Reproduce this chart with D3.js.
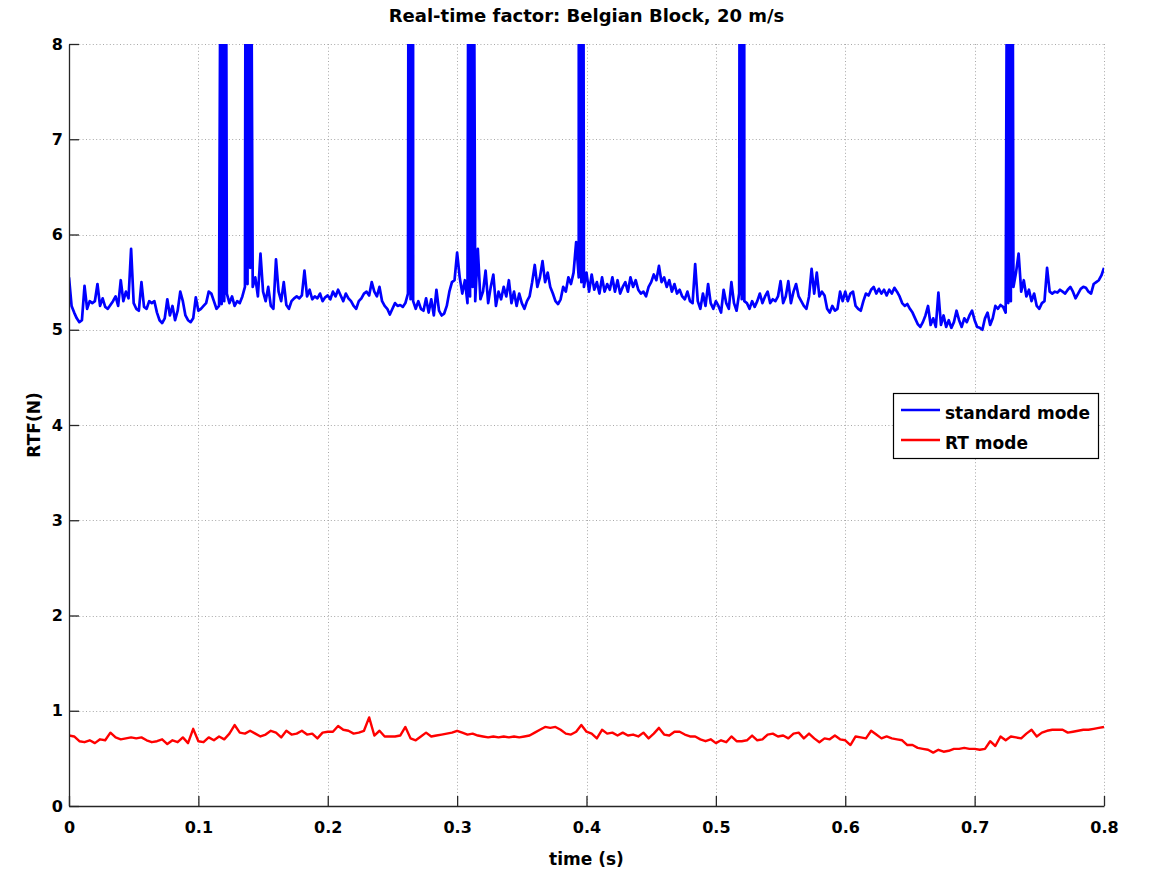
<!DOCTYPE html>
<html>
<head>
<meta charset="utf-8">
<script src="https://cdn.jsdelivr.net/npm/d3@7"></script>
<style>
  body { margin: 0; background: #fff; }
  svg text { font-family: "DejaVu Sans", sans-serif; font-weight: bold; fill: #000; }
</style>
</head>
<body>
<svg id="chart" width="1151" height="870"></svg>
<script>
// ---- data ----------------------------------------------------------------
const titleText = "Real-time factor: Belgian Block, 20 m/s";
const xLabel = "time (s)";
const yLabel = "RTF(N)";
const seriesNames = ["standard mode", "RT mode"];

const xTicks = [0, 0.1, 0.2, 0.3, 0.4, 0.5, 0.6, 0.7, 0.8];
const xTickLabels = ["0", "0.1", "0.2", "0.3", "0.4", "0.5", "0.6", "0.7", "0.8"];
const yTicks = [0, 1, 2, 3, 4, 5, 6, 7, 8];

// standard mode RTF, sampled every 2 ms from t = 0 to 0.8 s
const blueStep = 0.002;
const blueValues = [
  5.55, 5.25, 5.18, 5.12, 5.08, 5.10, 5.46, 5.22, 5.30, 5.28,
  5.30, 5.48, 5.25, 5.33, 5.24, 5.22, 5.26, 5.30, 5.35, 5.25,
  5.52, 5.30, 5.40, 5.33, 5.85, 5.28, 5.22, 5.20, 5.50, 5.24,
  5.22, 5.30, 5.28, 5.30, 5.18, 5.10, 5.07, 5.12, 5.32, 5.15,
  5.25, 5.10, 5.20, 5.40, 5.30, 5.15, 5.10, 5.08, 5.12, 5.34,
  5.20, 5.22, 5.25, 5.28, 5.40, 5.38, 5.30, 5.22, 5.25, 5.27,
  5.30, 5.38, 5.28, 5.35, 5.25, 5.30, 5.28, 5.35, 5.45, 5.48,
  5.65, 5.45, 5.55, 5.35, 5.80, 5.40, 5.30, 5.45, 5.25, 5.22,
  5.74, 5.40, 5.30, 5.50, 5.26, 5.22, 5.30, 5.33, 5.35, 5.33,
  5.36, 5.62, 5.35, 5.42, 5.32, 5.35, 5.33, 5.38, 5.30, 5.34,
  5.36, 5.32, 5.40, 5.35, 5.42, 5.36, 5.30, 5.38, 5.33, 5.30,
  5.25, 5.22, 5.30, 5.33, 5.38, 5.40, 5.36, 5.50, 5.40, 5.35,
  5.45, 5.30, 5.25, 5.22, 5.16, 5.22, 5.28, 5.25, 5.26, 5.24,
  5.28, 5.38, 5.32, 5.30, 5.22, 5.30, 5.22, 5.20, 5.33, 5.18,
  5.32, 5.15, 5.42, 5.20, 5.15, 5.17, 5.25, 5.40, 5.50, 5.52,
  5.81, 5.55, 5.38, 5.52, 5.28, 5.35, 5.45, 5.30, 5.85, 5.32,
  5.40, 5.62, 5.28, 5.45, 5.58, 5.25, 5.40, 5.32, 5.45, 5.35,
  5.52, 5.28, 5.40, 5.25, 5.38, 5.28, 5.22, 5.30, 5.35, 5.50,
  5.68, 5.45, 5.55, 5.72, 5.50, 5.60, 5.45, 5.38, 5.30, 5.27,
  5.32, 5.45, 5.40, 5.55, 5.48, 5.60, 5.92, 5.55, 5.50, 5.45,
  5.60, 5.40, 5.58, 5.42, 5.50, 5.38, 5.55, 5.40, 5.48, 5.42,
  5.55, 5.40, 5.52, 5.38, 5.45, 5.50, 5.40, 5.55, 5.45, 5.52,
  5.42, 5.38, 5.40, 5.35, 5.45, 5.50, 5.58, 5.52, 5.67, 5.50,
  5.55, 5.45, 5.52, 5.40, 5.48, 5.38, 5.42, 5.35, 5.32, 5.40,
  5.30, 5.28, 5.69, 5.30, 5.22, 5.38, 5.25, 5.48, 5.28, 5.22,
  5.30, 5.25, 5.18, 5.42, 5.28, 5.22, 5.50, 5.28, 5.20, 5.38,
  5.32, 5.30, 5.28, 5.22, 5.30, 5.24, 5.30, 5.38, 5.28, 5.35,
  5.40, 5.28, 5.32, 5.30, 5.35, 5.51, 5.28, 5.35, 5.51, 5.28,
  5.40, 5.48, 5.35, 5.30, 5.25, 5.22, 5.35, 5.64, 5.38, 5.60,
  5.35, 5.40, 5.36, 5.22, 5.18, 5.25, 5.20, 5.22, 5.40, 5.30,
  5.40, 5.30, 5.38, 5.40, 5.25, 5.22, 5.20, 5.30, 5.38, 5.36,
  5.42, 5.45, 5.38, 5.43, 5.38, 5.42, 5.36, 5.42, 5.38, 5.44,
  5.40, 5.35, 5.28, 5.25, 5.27, 5.22, 5.18, 5.12, 5.06, 5.03,
  5.08, 5.15, 5.25, 5.05, 5.12, 5.03, 5.39, 5.05, 5.15, 5.03,
  5.10, 5.02, 5.08, 5.20, 5.10, 5.03, 5.12, 5.08, 5.15, 5.20,
  5.10, 5.03, 5.02, 5.00, 5.12, 5.18, 5.05, 5.12, 5.25, 5.22,
  5.26, 5.24, 5.18, 5.28, 5.30, 5.45, 5.60, 5.80, 5.40, 5.52,
  5.35, 5.42, 5.30, 5.38, 5.25, 5.22, 5.28, 5.30, 5.65, 5.40,
  5.38, 5.40, 5.39, 5.42, 5.40, 5.38, 5.42, 5.45, 5.40, 5.33,
  5.38, 5.43, 5.45, 5.44, 5.40, 5.38, 5.48, 5.50, 5.52, 5.57, 5.65
];

// short solver stalls in standard mode: [time (s), RTF] samples that shoot off the scale
const blueSpikes = [
  [[0.1178, 12], [0.1186, 6.8], [0.1194, 12], [0.1202, 6.8], [0.1210, 12]],
  [[0.1368, 12], [0.1376, 6.8], [0.1384, 12], [0.1392, 6.8], [0.1400, 12]],
  [[0.2627, 12], [0.2635, 6.8], [0.2643, 12], [0.2651, 6.8], [0.2659, 12]],
  [[0.3091, 12], [0.3099, 6.8], [0.3107, 12], [0.3115, 6.8], [0.3123, 12]],
  [[0.3941, 12], [0.3949, 6.8], [0.3957, 12], [0.3965, 6.8], [0.3973, 12]],
  [[0.5186, 12], [0.5194, 6.8], [0.5202, 12], [0.5210, 6.8], [0.5218, 12]],
  [[0.7257, 12], [0.7265, 6.8], [0.7273, 12], [0.7281, 6.8], [0.7289, 12]]
];

// RT mode RTF, sampled every 4 ms from t = 0 to 0.8 s
const redStep = 0.004;
const redValues = [
  0.74, 0.73, 0.68, 0.67, 0.69, 0.66, 0.70, 0.69, 0.77, 0.72,
  0.70, 0.71, 0.72, 0.71, 0.72, 0.69, 0.67, 0.68, 0.70, 0.65,
  0.69, 0.67, 0.72, 0.66, 0.81, 0.68, 0.67, 0.72, 0.69, 0.73,
  0.70, 0.76, 0.85, 0.77, 0.76, 0.79, 0.76, 0.73, 0.75, 0.79,
  0.77, 0.72, 0.79, 0.75, 0.76, 0.79, 0.75, 0.76, 0.71, 0.77,
  0.78, 0.78, 0.84, 0.80, 0.79, 0.76, 0.77, 0.79, 0.93, 0.74,
  0.79, 0.73, 0.73, 0.73, 0.74, 0.83, 0.71, 0.69, 0.73, 0.77,
  0.73, 0.74, 0.75, 0.76, 0.77, 0.79, 0.77, 0.75, 0.76, 0.74,
  0.73, 0.72, 0.73, 0.72, 0.73, 0.72, 0.73, 0.72, 0.73, 0.74,
  0.77, 0.80, 0.83, 0.82, 0.83, 0.80, 0.76, 0.75, 0.78, 0.85,
  0.78, 0.76, 0.71, 0.80, 0.76, 0.77, 0.74, 0.77, 0.74, 0.75,
  0.73, 0.77, 0.71, 0.76, 0.82, 0.75, 0.74, 0.78, 0.78, 0.75,
  0.73, 0.73, 0.70, 0.68, 0.70, 0.66, 0.69, 0.67, 0.73, 0.68,
  0.68, 0.69, 0.74, 0.69, 0.70, 0.75, 0.76, 0.73, 0.74, 0.71,
  0.76, 0.77, 0.71, 0.76, 0.71, 0.67, 0.71, 0.70, 0.74, 0.70,
  0.69, 0.64, 0.73, 0.72, 0.71, 0.79, 0.75, 0.71, 0.73, 0.71,
  0.70, 0.69, 0.64, 0.64, 0.61, 0.60, 0.59, 0.56, 0.59, 0.57,
  0.58, 0.60, 0.60, 0.61, 0.60, 0.60, 0.59, 0.60, 0.68, 0.63,
  0.73, 0.69, 0.73, 0.72, 0.71, 0.76, 0.80, 0.73, 0.77, 0.79,
  0.80, 0.80, 0.80, 0.77, 0.78, 0.79, 0.80, 0.80, 0.81, 0.82, 0.83
];

const seriesColors = ["#0000ff", "#ff0000"];

// ---- layout --------------------------------------------------------------
const W = 1151, H = 870;
const plot = { left: 69, right: 1104, top: 44, bottom: 806 };

const svg = d3.select("#chart");
svg.append("rect").attr("width", W).attr("height", H).attr("fill", "#fff");

const x = d3.scaleLinear().domain([0, 0.8]).range([plot.left, plot.right]);
const y = d3.scaleLinear().domain([0, 8]).range([plot.bottom, plot.top]);

// dotted grid
const grid = svg.append("g").attr("stroke", "#a8a8a8").attr("stroke-width", 1)
  .attr("stroke-dasharray", "1,2.4").attr("fill", "none");
xTicks.filter(d => d > 0).forEach(d => {
  grid.append("line")
    .attr("x1", Math.round(x(d)) + 0.5).attr("x2", Math.round(x(d)) + 0.5)
    .attr("y1", plot.top).attr("y2", plot.bottom);
});
yTicks.filter(d => d > 0).forEach(d => {
  grid.append("line")
    .attr("x1", plot.left).attr("x2", plot.right)
    .attr("y1", Math.round(y(d)) + 0.5).attr("y2", Math.round(y(d)) + 0.5);
});

// series
svg.append("clipPath").attr("id", "plot-clip")
  .append("rect").attr("x", plot.left).attr("y", plot.top)
  .attr("width", plot.right - plot.left).attr("height", plot.bottom - plot.top);

const bluePoints = blueValues.map((v, i) => [i * blueStep, v])
  .concat(blueSpikes.flat())
  .sort((a, b) => a[0] - b[0]);
const redPoints = redValues.map((v, i) => [i * redStep, v]);

const line = d3.line().x(d => x(d[0])).y(d => y(d[1]));
const series = svg.append("g").attr("clip-path", "url(#plot-clip)");
series.append("path").datum(bluePoints)
  .attr("d", line).attr("fill", "none").attr("stroke", seriesColors[0])
  .attr("stroke-width", 2.7).attr("stroke-linejoin", "round");
series.append("path").datum(redPoints)
  .attr("d", line).attr("fill", "none").attr("stroke", seriesColors[1])
  .attr("stroke-width", 2.4).attr("stroke-linejoin", "round");

// axes (ticks point into the plot)
const axisColor = "#262626";
const xAxis = svg.append("g").attr("transform", `translate(0,${plot.bottom})`)
  .call(d3.axisBottom(x).tickValues(xTicks)
    .tickFormat((d, i) => xTickLabels[i]).tickSize(-10).tickSizeOuter(0).tickPadding(16));
const yAxis = svg.append("g").attr("transform", `translate(${plot.left},0)`)
  .call(d3.axisLeft(y).tickValues(yTicks).tickFormat(d3.format("d"))
    .tickSize(-10).tickSizeOuter(0).tickPadding(6));
[xAxis, yAxis].forEach(a => {
  a.select(".domain").attr("stroke", axisColor).attr("stroke-width", 1.3);
  a.selectAll(".tick line").attr("stroke", axisColor).attr("stroke-width", 1.3);
  a.selectAll(".tick text").attr("font-size", 16).attr("font-family", null)
    .style("font-family", "'DejaVu Sans', sans-serif").style("font-weight", "bold").attr("fill", "#000");
});

// titles
svg.append("text").attr("x", (plot.left + plot.right) / 2).attr("y", 22)
  .attr("text-anchor", "middle").attr("font-size", 18).text(titleText);
svg.append("text").attr("x", (plot.left + plot.right) / 2).attr("y", 865)
  .attr("text-anchor", "middle").attr("font-size", 17).text(xLabel);
svg.append("text").attr("transform", "translate(40,425) rotate(-90)")
  .attr("text-anchor", "middle").attr("font-size", 17).text(yLabel);

// legend
const legend = svg.append("g");
legend.append("rect").attr("x", 893.5).attr("y", 393.5).attr("width", 205).attr("height", 65)
  .attr("fill", "#fff").attr("stroke", "#000").attr("stroke-width", 1.2);
seriesNames.forEach((name, i) => {
  const ly = 410 + i * 30;
  legend.append("line").attr("x1", 901).attr("x2", 940).attr("y1", ly).attr("y2", ly)
    .attr("stroke", seriesColors[i]).attr("stroke-width", 2.6);
  legend.append("text").attr("x", 945).attr("y", ly + 9).attr("font-size", 17).text(name);
});
</script>
</body>
</html>
